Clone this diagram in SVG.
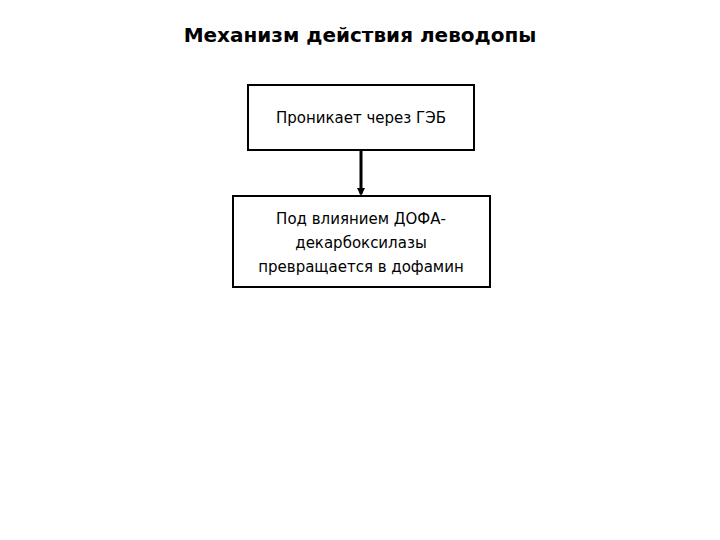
<svg xmlns="http://www.w3.org/2000/svg" width="720" height="540" viewBox="0 0 720 540">
<style>
.box{fill:#fff;stroke:#000;stroke-width:2}
.t{font-family:"DejaVu Sans","Noto Sans",sans-serif;font-size:15px;text-anchor:middle;fill:#000}
</style>
<defs><marker id="ah" markerWidth="8" markerHeight="8" refX="6" refY="4" orient="auto" markerUnits="userSpaceOnUse"><path d="M0,0 L8,4 L0,8 z" fill="#000"/></marker></defs>
<rect width="720" height="540" fill="#fff"/>
<text x="360" y="42" class="t" style="font-size:20px;font-weight:bold">Механизм действия леводопы</text>
<g id="n1"><rect class="box" x="248" y="85" width="226" height="65"/><text x="361" y="123" class="t">Проникает через ГЭБ</text></g>
<g id="n2"><rect class="box" x="233" y="196" width="257" height="91"/>
<text x="361" y="224" class="t">Под влиянием ДОФА-</text>
<text x="361" y="248" class="t">декарбоксилазы</text>
<text x="361" y="272" class="t">превращается в дофамин</text></g>
<g id="connectors"><line x1="361" y1="150" x2="361" y2="194" stroke="#000" stroke-width="3" marker-end="url(#ah)"/></g>
</svg>
